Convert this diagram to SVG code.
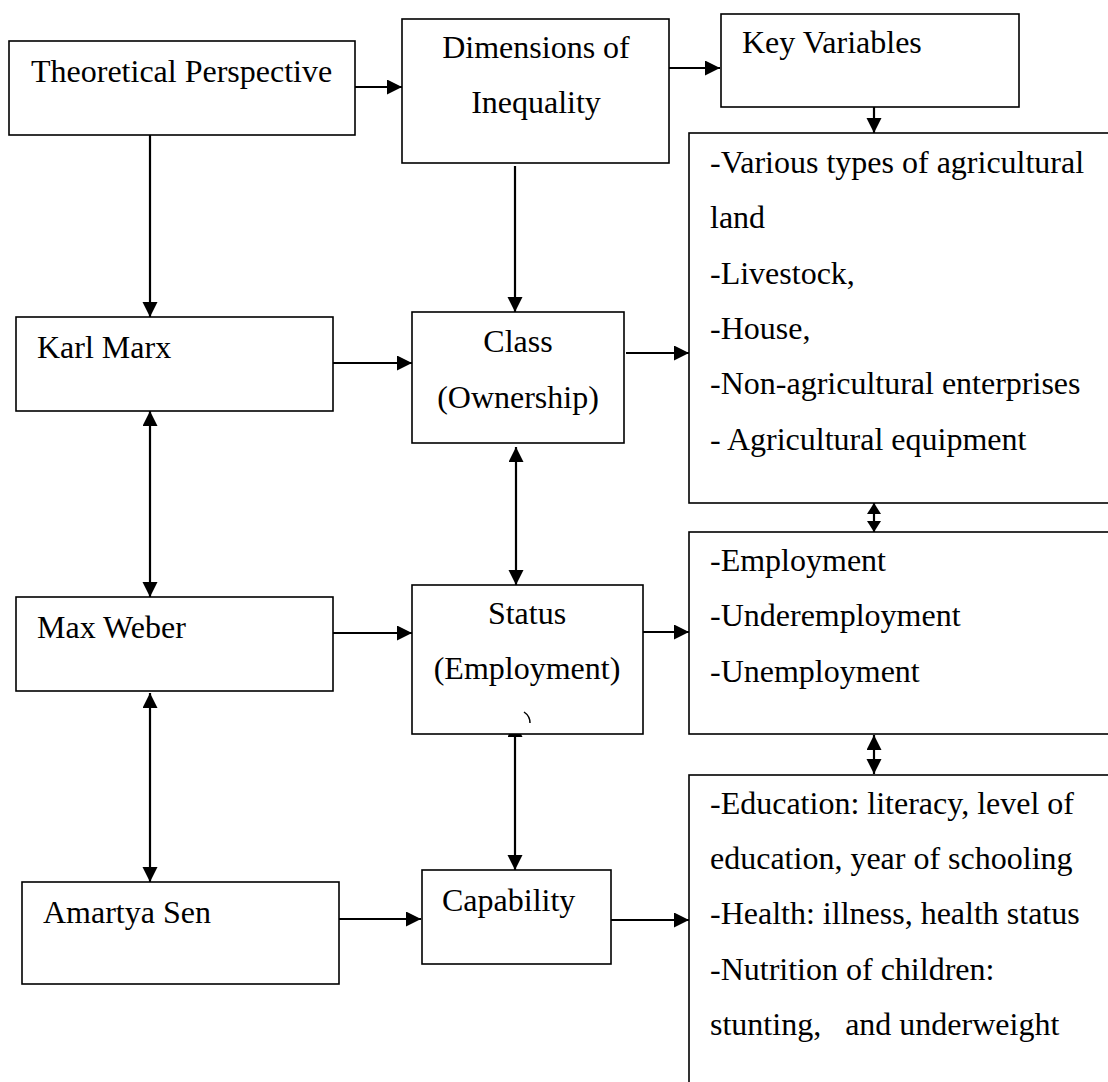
<svg xmlns="http://www.w3.org/2000/svg" width="1108" height="1082" viewBox="0 0 1108 1082">
<style>
.box{fill:#fff;stroke:#000;stroke-width:1.6}
.t{font-family:"Liberation Serif","Times New Roman",serif;font-size:32px;fill:#000}
.c{text-anchor:middle}
.ln{fill:none;stroke:#000;stroke-width:2.2}
</style>
<defs>
<marker id="ah" markerUnits="userSpaceOnUse" markerWidth="16" markerHeight="16" refX="15" refY="7.5" orient="auto-start-reverse">
<path d="M0,0 L15,7.5 L0,15 z" fill="#000"/>
</marker>
<marker id="as" markerUnits="userSpaceOnUse" markerWidth="14" markerHeight="16" refX="11" refY="7" orient="auto-start-reverse">
<path d="M0,0 L11,7 L0,14 z" fill="#000"/>
</marker>
</defs>
<rect width="1108" height="1082" fill="#fff"/>
<g id="connectors">
<line class="ln" x1="355" y1="87" x2="402" y2="87" marker-end="url(#ah)"/>
<line class="ln" x1="669" y1="68" x2="720" y2="68" marker-end="url(#ah)"/>
<line class="ln" x1="874" y1="107" x2="874" y2="133" marker-end="url(#ah)"/>
<line class="ln" x1="150" y1="135" x2="150" y2="317" marker-end="url(#ah)"/>
<line class="ln" x1="515" y1="166" x2="515" y2="312" marker-end="url(#ah)"/>
<line class="ln" x1="333" y1="363" x2="412" y2="363" marker-end="url(#ah)"/>
<line class="ln" x1="626" y1="353" x2="689" y2="353" marker-end="url(#ah)"/>
<line class="ln" x1="150" y1="411" x2="150" y2="597" marker-start="url(#ah)" marker-end="url(#ah)"/>
<line class="ln" x1="516" y1="447" x2="516" y2="585" marker-start="url(#ah)" marker-end="url(#ah)"/>
<line class="ln" x1="874" y1="503" x2="874" y2="532" marker-start="url(#as)" marker-end="url(#as)"/>
<line class="ln" x1="333" y1="633" x2="412" y2="633" marker-end="url(#ah)"/>
<line class="ln" x1="643" y1="632" x2="689" y2="632" marker-end="url(#ah)"/>
<line class="ln" x1="150" y1="693" x2="150" y2="882" marker-start="url(#ah)" marker-end="url(#ah)"/>
<line class="ln" x1="515" y1="722" x2="515" y2="870" marker-start="url(#ah)" marker-end="url(#ah)"/>
<line class="ln" x1="874" y1="735" x2="874" y2="774" marker-start="url(#ah)" marker-end="url(#ah)"/>
<line class="ln" x1="339" y1="919" x2="421" y2="919" marker-end="url(#ah)"/>
<line class="ln" x1="611" y1="920" x2="689" y2="920" marker-end="url(#ah)"/>
</g>
<g id="theoretical">
<rect class="box" x="9" y="41" width="346" height="94"/>
<text class="t" x="31" y="82">Theoretical Perspective</text>
</g>
<g id="dimensions">
<rect class="box" x="402" y="19" width="267" height="144"/>
<text class="t c" x="536" y="58">Dimensions of</text>
<text class="t c" x="536" y="113">Inequality</text>
</g>
<g id="keyvariables">
<rect class="box" x="721" y="14" width="298" height="93"/>
<text class="t" x="742" y="53">Key Variables</text>
</g>
<g id="karlmarx">
<rect class="box" x="16" y="317" width="317" height="94"/>
<text class="t" x="37" y="358">Karl Marx</text>
</g>
<g id="maxweber">
<rect class="box" x="16" y="597" width="317" height="94"/>
<text class="t" x="37" y="638">Max Weber</text>
</g>
<g id="amartyasen">
<rect class="box" x="22" y="882" width="317" height="102"/>
<text class="t" x="43" y="923">Amartya Sen</text>
</g>
<g id="class">
<rect class="box" x="412" y="312" width="212" height="131"/>
<text class="t c" x="518" y="352">Class</text>
<text class="t c" x="518" y="408">(Ownership)</text>
</g>
<g id="status">
<rect class="box" x="412" y="585" width="231" height="149"/>
<text class="t c" x="527" y="624">Status</text>
<text class="t c" x="527" y="679">(Employment)</text>
<path d="M524,712 Q530,716 530,723" fill="none" stroke="#000" stroke-width="1.5"/>
</g>
<g id="capability">
<rect class="box" x="422" y="870" width="189" height="94"/>
<text class="t" x="442" y="911">Capability</text>
</g>
<g id="ownership-vars">
<rect class="box" x="689" y="133" width="440" height="370"/>
<text class="t" x="710" y="173">-Various types of agricultural</text>
<text class="t" x="710" y="228">land</text>
<text class="t" x="710" y="284">-Livestock,</text>
<text class="t" x="710" y="339">-House,</text>
<text class="t" x="710" y="394">-Non-agricultural enterprises</text>
<text class="t" x="710" y="450">- Agricultural equipment</text>
</g>
<g id="employment-vars">
<rect class="box" x="689" y="532" width="440" height="202"/>
<text class="t" x="710" y="571">-Employment</text>
<text class="t" x="710" y="626">-Underemployment</text>
<text class="t" x="710" y="682">-Unemployment</text>
</g>
<g id="capability-vars">
<rect class="box" x="689" y="775" width="440" height="340"/>
<text class="t" x="710" y="814">-Education: literacy, level of</text>
<text class="t" x="710" y="869">education, year of schooling</text>
<text class="t" x="710" y="924">-Health: illness, health status</text>
<text class="t" x="710" y="980">-Nutrition of children:</text>
<text class="t" x="710" y="1035" xml:space="preserve">stunting,   and underweight</text>
</g>
</svg>
